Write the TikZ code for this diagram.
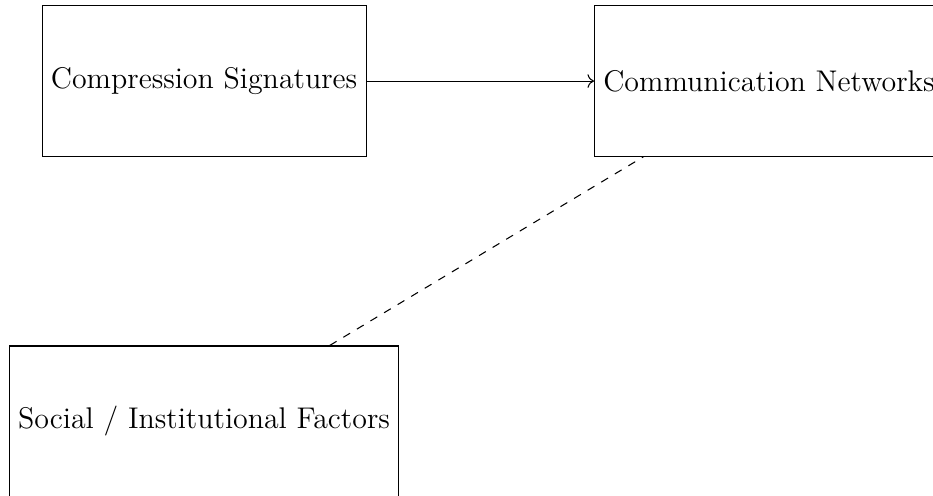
\documentclass[tikz,border=0pt]{standalone}
\usetikzlibrary{arrows.meta}
\tikzset{
  box/.style={draw, minimum height=2cm, inner sep=0.3333em,
    font=\fontsize{11.33}{14}\selectfont},
  link/.style={->},
  assoc/.style={dashed}
}
\begin{document}
\begin{tikzpicture}
  \useasboundingbox (0pt,0pt) rectangle (353.4pt,-187.5pt);
  \clip (0pt,0pt) rectangle (353.4pt,-187.5pt);
  \node[box] (comp) at (77.3pt,-30.7pt) {Compression Signatures};
  \node[box, anchor=west] (comm) at (225pt,-30.7pt) {Communication Networks};
  \node[box] (soc) at (77.3pt,-159.5pt) {Social / Institutional Factors};
  \draw[link] (comp) -- (comm);
  \draw[assoc] (soc) -- (comm);
\end{tikzpicture}
\end{document}
